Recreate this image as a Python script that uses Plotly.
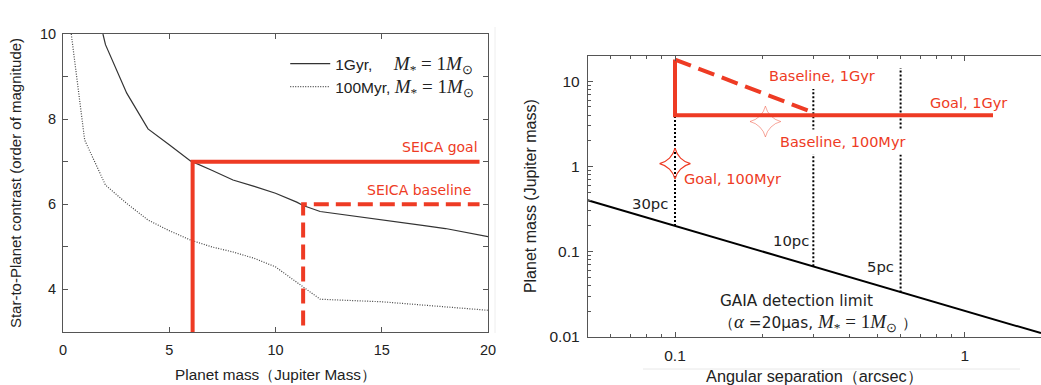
import plotly.graph_objects as go
import numpy as np

# ---------------- Left panel data ----------------
mass_1gyr = [1.88, 2.0, 3.0, 4.0, 5.0, 6.0, 7.0, 8.0, 9.0, 10.0, 11.0, 11.3, 12.1, 13.0, 14.0, 15.0, 16.0, 17.0, 18.0, 19.0, 20.0]
contrast_1gyr = [10.0, 9.75, 8.61, 7.77, 7.40, 7.02, 6.80, 6.57, 6.42, 6.26, 6.05, 5.97, 5.83, 5.77, 5.71, 5.65, 5.57, 5.50, 5.43, 5.33, 5.24]
mass_100myr = [0.39, 1.02, 2.0, 3.0, 4.0, 5.0, 6.0, 7.0, 8.0, 9.0, 10.0, 11.3, 12.1, 13.0, 14.0, 15.0, 16.0, 17.0, 18.0, 19.0, 20.0]
contrast_100myr = [10.0, 7.51, 6.45, 6.02, 5.63, 5.38, 5.16, 5.00, 4.88, 4.73, 4.53, 4.06, 3.77, 3.75, 3.73, 3.71, 3.67, 3.63, 3.59, 3.55, 3.51]
goal_x = [6.1, 6.1, 19.6]
goal_y = [3.0, 7.0, 7.0]
base_x = [11.3, 11.3, 19.6]
base_y = [3.15, 6.0, 6.0]
left_xticks = [0, 5, 10, 15, 20]
left_yticks = [4, 6, 8, 10]

# ---------------- Right panel data ----------------
gaia_sep = [0.05, 1.83]
gaia_mass = [0.40, 0.011]
pc_sep = [0.1, 0.3, 0.6]
pc_mass_low = [0.20, 0.067, 0.033]
pc_mass_high = [4.0, 8.1, 14.3]
goal1_sep = [0.1, 0.1, 1.25]
goal1_mass = [18.0, 4.0, 4.0]
base1_sep = [0.1, 0.3]
base1_mass = [18.0, 4.3]
goal100_sep = [0.1]
goal100_mass = [1.08]
base100_sep = [0.205]
base100_mass = [3.37]
right_xticks = [0.1, 1]
right_xticklabels = ["0.1", "1"]
right_yticks = [0.01, 0.1, 1, 10]
right_yticklabels = ["0.01", "0.1", "1", "10"]

RED = "#EE3B24"
INK = "#222222"
AX = "#555555"
FONT = "Liberation Sans"
LABEL_FONT = "DejaVu Sans"


def math(px):
    return ("<span style='font-family:Liberation Serif;font-size:%dpx'><i>M</i><sub>*</sub> = 1<i>M</i><sub>⊙</sub></span>" % px)


x_minor = [m * 10.0 ** e for e in (-2, -1, 0) for m in range(2, 10)]
y_minor = [m * 10.0 ** e for e in (-2, -1, 0, 1) for m in range(2, 10)]

fig = go.Figure()

# Left panel
fig.add_trace(go.Scatter(x=mass_1gyr, y=contrast_1gyr, mode="lines",
                         line=dict(color="#333333", width=1.2),
                         name="1Gyr,     " + math(19), xaxis="x", yaxis="y"))
fig.add_trace(go.Scatter(x=mass_100myr, y=contrast_100myr, mode="lines",
                         line=dict(color="#444444", width=1.2, dash="1px,1.5px"),
                         name="100Myr, " + math(19), xaxis="x", yaxis="y"))
fig.add_trace(go.Scatter(x=goal_x, y=goal_y, mode="lines",
                         line=dict(color=RED, width=4), showlegend=False,
                         xaxis="x", yaxis="y"))
fig.add_trace(go.Scatter(x=base_x, y=base_y, mode="lines",
                         line=dict(color=RED, width=4, dash="15px,7px"), showlegend=False,
                         xaxis="x", yaxis="y"))

# Right panel
fig.add_trace(go.Scatter(x=gaia_sep, y=gaia_mass, mode="lines",
                         line=dict(color="black", width=2), showlegend=False,
                         xaxis="x2", yaxis="y2"))
for s, lo, hi in zip(pc_sep, pc_mass_low, pc_mass_high):
    fig.add_trace(go.Scatter(x=[s, s], y=[lo, hi], mode="lines",
                             line=dict(color="black", width=2, dash="2px,2px"),
                             showlegend=False, xaxis="x2", yaxis="y2"))
fig.add_trace(go.Scatter(x=goal1_sep, y=goal1_mass, mode="lines",
                         line=dict(color=RED, width=4), showlegend=False,
                         xaxis="x2", yaxis="y2"))
fig.add_trace(go.Scatter(x=base1_sep, y=base1_mass, mode="lines",
                         line=dict(color=RED, width=4, dash="17px,8px"), showlegend=False,
                         xaxis="x2", yaxis="y2"))
fig.add_trace(go.Scatter(x=goal100_sep, y=goal100_mass, mode="markers",
                         marker=dict(symbol="star-diamond-open", size=22, color=RED,
                                     line=dict(width=1.2, color=RED)),
                         showlegend=False, xaxis="x2", yaxis="y2"))
fig.add_trace(go.Scatter(x=base100_sep, y=base100_mass, mode="markers",
                         marker=dict(symbol="star-diamond-open", size=22, color=RED, opacity=0.45,
                                     line=dict(width=1, color=RED)),
                         showlegend=False, xaxis="x2", yaxis="y2"))

axis_common = dict(showline=True, linecolor=AX, linewidth=1, ticks="inside",
                   tickcolor=AX, ticklen=5, showgrid=False, zeroline=False, automargin=False)

fig.update_layout(
    width=1041, height=385, margin=dict(l=0, r=0, t=0, b=0),
    paper_bgcolor="white", plot_bgcolor="white",
    font=dict(family=FONT, color=INK),
    xaxis=dict(domain=[0.0605, 0.4688], range=[0, 20], tickvals=left_xticks,
               mirror="allticks", anchor="y", ticklabelstandoff=5,
               tickfont=dict(size=14.5, color=INK, family=FONT),
               title=dict(text="Planet mass（Jupiter Mass）", font=dict(size=15.3), standoff=11),
               **axis_common),
    yaxis=dict(domain=[0.1377, 0.9117], range=[3, 10], tickvals=left_yticks,
               mirror="allticks", anchor="x", ticklabelstandoff=3,
               tickfont=dict(size=14.5, color=INK, family=FONT),
               minor=dict(dtick=1, ticks="inside", ticklen=5, tickcolor=AX),
               title=dict(text="Star-to-Planet contrast (order of magnitude)", font=dict(size=15), standoff=14),
               **axis_common),
    xaxis2=dict(domain=[0.5646, 1.0], type="log", range=[np.log10(0.05), np.log10(1.83)],
                tickvals=right_xticks, ticktext=right_xticklabels, mirror="allticks", anchor="y2",
                ticklabelstandoff=5,
                tickfont=dict(size=15.5, color=INK, family=FONT),
                minor=dict(tickvals=x_minor, ticks="inside", ticklen=3, tickcolor=AX),
                title=dict(text="Angular separation（arcsec）", font=dict(size=16.3), standoff=9),
                **axis_common),
    yaxis2=dict(domain=[0.1255, 0.8553], type="log", range=[-2, np.log10(20)],
                tickvals=right_yticks, ticktext=right_yticklabels, anchor="x2",
                ticklabelstandoff=4,
                tickfont=dict(size=15.5, color=INK, family=FONT),
                minor=dict(tickvals=y_minor, ticks="inside", ticklen=3, tickcolor=AX),
                title=dict(text="Planet mass (Jupiter mass)", font=dict(size=16), standoff=8),
                **axis_common),
    legend=dict(x=0.274, y=0.878, xanchor="left", yanchor="top", bgcolor="rgba(0,0,0,0)",
                font=dict(size=15.5, family=FONT, color=INK), tracegroupgap=0,
                itemwidth=40),
    shapes=[
        dict(type="line", xref="paper", yref="paper", x0=643 / 1041, x1=1020 / 1041,
             y0=1 - 369 / 385, y1=1 - 369 / 385, line=dict(color="#e8e8e8", width=1)),
        dict(type="line", xref="paper", yref="paper", x0=495 / 1041, x1=495 / 1041,
             y0=1 - 333 / 385, y1=1 - 27 / 385, line=dict(color="#eeeeee", width=1)),
    ],
)

ann = []
def A(text, x, y, xref, yref, color, xanchor="left", size=15, bg=None):
    d = dict(text=text, x=x, y=y, xref=xref, yref=yref, showarrow=False,
             xanchor=xanchor, yanchor="middle", font=dict(size=size, color=color, family=LABEL_FONT))
    if bg:
        d["bgcolor"] = bg
        d["borderpad"] = 4
    ann.append(d)

A("SEICA goal", 19.62, 7.35, "x", "y", RED, xanchor="right", size=14)
A("SEICA baseline", 19.3, 6.33, "x", "y", RED, xanchor="right", size=14)
A("Baseline, 1Gyr", -0.684, 1.059, "x2", "y2", RED, size=14.5)
A("Goal, 1Gyr", -0.127, 0.75, "x2", "y2", RED, size=14.5)
A("Baseline, 100Myr", -0.655, 0.282, "x2", "y2", RED, size=14.5, bg="white")
A("Goal, 100Myr", -0.977, -0.144, "x2", "y2", RED, size=14.5)
A("30pc", -1.156, -0.438, "x2", "y2", INK, size=14.8)
A("10pc", -0.669, -0.869, "x2", "y2", INK, size=14.8)
A("5pc", -0.344, -1.174, "x2", "y2", INK, size=14.8)
A("GAIA detection limit", -0.853, -1.585, "x2", "y2", INK, size=15.3)
A("（<span style='font-family:Liberation Serif;font-size:19px'><i>α</i></span> =20μas, " + math(19) + " ）",
  -0.855, -1.838, "x2", "y2", INK, size=15.3)
fig.update_layout(annotations=ann)

fig.write_html("out.html")
